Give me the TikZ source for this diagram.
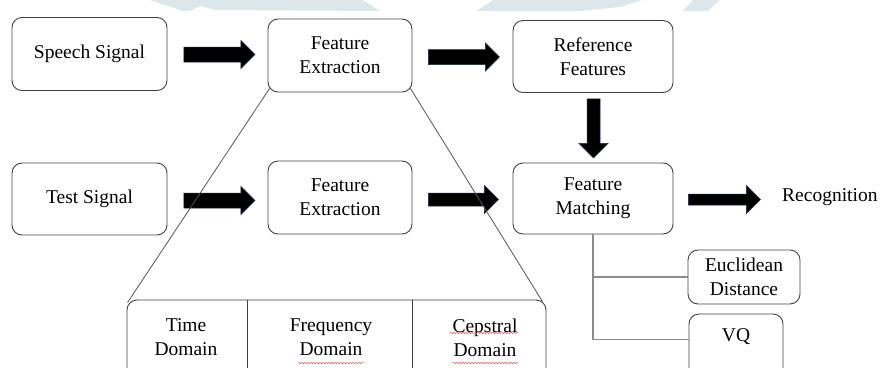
\documentclass[tikz,border=0pt]{standalone}
\usepackage{fontspec}
\setmainfont{Liberation Serif}
\usetikzlibrary{calc,decorations.pathmorphing}
\definecolor{edge}{HTML}{404040}
\definecolor{watermarkgrey}{HTML}{DDE6EA}
\definecolor{twig}{HTML}{8C8C8C}
\definecolor{slant}{HTML}{555555}
\definecolor{rim}{HTML}{1C2B45}
\definecolor{squigred}{HTML}{E06060}
\begin{document}
\begin{tikzpicture}[x=1pt,y=-1pt,
  lbl/.style={font=\fontsize{19.5}{24}\selectfont, align=center, inner sep=0pt},
  box/.style={draw=edge, line width=0.9pt, rounded corners=10pt, lbl},
  slantline/.style={draw=slant, line width=0.8pt},
  twigline/.style={draw=twig, line width=1.4pt},
  squig/.style={draw=squigred, line width=0.5pt,
    decorate, decoration={snake, segment length=3pt, amplitude=0.7pt}},
  pics/blockarrow/.style n args={3}{code={
    \filldraw[fill=black, draw=rim, line width=0.5pt]
      (0,-#2) -- ({#1-#3},-#2) -- ({#1-#3},-#3) -- (#1,0)
      -- ({#1-#3},#3) -- ({#1-#3},#2) -- (0,#2) -- cycle;
  }}
]
\useasboundingbox (0,0) rectangle (882,367);
\clip (0,0) rectangle (882,367);

% faint background shapes along the top edge
\fill[watermarkgrey] (150,0) -- (183,11) -- (190,11) -- (200,6) -- (215,10) -- (380,11) -- (363,0) -- cycle;
\fill[watermarkgrey] (493,0) -- (477,11) -- (580,11) -- (620,7) -- (642,0) -- cycle;
\fill[watermarkgrey] (693,0) -- (683,11) -- (708,11) -- (720,0) -- cycle;

% top row
\node[box, minimum width=155pt, minimum height=73pt] (ss) at (89.5,54) {Speech Signal};
\node[box, minimum width=144pt, minimum height=73pt] (fe1) at (340,55.5) {Feature\\Extraction};
\node[box, minimum width=160pt, minimum height=72pt] (rf) at (593,56.5) {Reference\\Features};

% middle row
\node[box, minimum width=155pt, minimum height=72pt] (ts) at (89.5,199) {Test Signal};
\node[box, minimum width=144pt, minimum height=73pt] (fe2) at (340,197.5) {Feature\\Extraction};
\node[box, minimum width=160pt, minimum height=71pt] (fm) at (593,198.5) {Feature\\Matching};
\node[lbl, anchor=west] (rec) at (782,197) {Recognition};

% matching methods
\node[box, minimum width=112pt, minimum height=54pt] (euc) at (744,277) {Euclidean\\Distance};
\node[box, minimum width=94pt, minimum height=76pt] (vq) at (736,352) {};
\node[lbl] (vqt) at ($(vq.north)+(0,23)$) {VQ};

% feature domains
\node[box, minimum width=419pt, minimum height=100pt] (dm) at (336.5,350) {};
\draw[draw=edge, line width=0.9pt] ($(dm.north west)+(121,0)$) -- ++(0,100);
\draw[draw=edge, line width=0.9pt] ($(dm.north west)+(286,0)$) -- ++(0,100);
\node[lbl] (td) at (186,337.5) {Time\\Domain};
\node[lbl] (fd) at (331,337.5) {Frequency\\Domain};
\node[lbl] (cd) at (485,337.5) {Cepstral\\Domain};
\draw[squig] (298,363) -- (363,363);
\draw[squig] (450,333) -- (518,333);
\draw[squig] (453,363) -- (518,363);

% block arrows
\pic (a1) at ($(ss.east)+(16.5,0.5)$) {blockarrow={71}{7.5}{14}};
\pic (a2) at ($(fe1.east)+(16,1.5)$) {blockarrow={71}{7.5}{14}};
\pic (a3) at ($(ts.east)+(16.5,1.5)$) {blockarrow={71}{7.5}{14}};
\pic (a4) at ($(fe2.east)+(16,2)$) {blockarrow={70}{6.5}{14}};
\pic (a5) at ($(fm.east)+(15,1)$) {blockarrow={72}{5.5}{14}};
\pic[rotate=-90] (a6) at ($(rf.south)+(0.5,6)$) {blockarrow={59}{6.5}{14.5}};

% expansion of the feature extraction step
\draw[slantline] ($(fe1.south west)+(2,-4)$) -- ($(dm.north west)+(1,3)$);
\draw[slantline] ($(fe1.south east)+(-2,-4)$) -- ($(dm.north east)+(-4,2)$);

% matching tree
\draw[twigline] (fm.south) |- (euc.west);
\draw[twigline] (fm.south) |- ($(vq.north west)+(0,26)$);
\end{tikzpicture}
\end{document}
